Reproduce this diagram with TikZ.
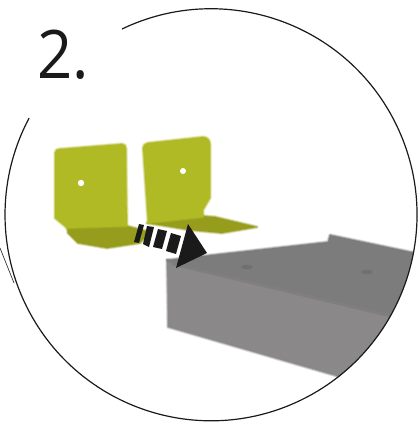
\documentclass[tikz,border=0pt]{standalone}
\usepackage{fontspec}
\setmainfont{Open Sans}
\definecolor{yel}{RGB}{176,186,36}
\definecolor{yeldark}{RGB}{150,156,28}
\definecolor{ink}{RGB}{26,26,26}
\definecolor{boxtop}{RGB}{124,124,125}
\definecolor{boxfront}{RGB}{138,136,137}
\tikzset{
  soft/.style={fill=#1,line join=round,
    preaction={draw=#1,line width=3.5pt,draw opacity=.25,line join=round},
    preaction={draw=#1,line width=1.8pt,draw opacity=.5,line join=round}},
  dashbar/.style={fill=ink,draw=none},
  ring/.style={draw=ink,line width=1.2pt}
}
\begin{document}
\begin{tikzpicture}[x=1pt,y=-1pt]
\useasboundingbox (0,0) rectangle (417,422);
\fill[white] (0,0) rectangle (417,422);
% grey block
\begin{scope}
\clip (211,215) circle[radius=206];
\path[soft=boxfront] (167,260) -- (168,327) -- (337,376) -- (430,410) -- (430,320) -- (390,312) -- (177,262) -- cycle;
\path[soft=boxtop] (167,260) -- (328,242) -- (330,235) -- (430,256) -- (430,325) -- (390,314) -- (177,264) -- cycle;
\draw[line width=2.5pt,draw=boxfront!108!white] (172,264) -- (390,316) -- (430,326);
\fill[boxtop!85!black,opacity=.6] (247,267) ellipse[x radius=6,y radius=2.2];
\fill[boxtop!85!black,opacity=.6] (367,272) ellipse[x radius=6,y radius=2.2];
\end{scope}
% left bracket
\path[soft=yeldark] (67,227) -- (68,233) -- (78,243) -- (107,248) -- (140,243) -- (150,232) -- (127,226) -- cycle;
\path[soft=yel] (55,153) .. controls (55,150) and (57,149) .. (60,149) -- (122,144) .. controls (125,144) and (126,146) .. (126,149) -- (127,226) -- (67,228) -- (55,218) -- cycle;
\fill[white] (81,183) circle[radius=3.2];
% right bracket
\path[soft=yeldark] (147,223) -- (190,230) -- (222,233) -- (257,227) -- (215,217) -- (203,216) -- cycle;
\path[soft=yel] (143,148) .. controls (143,145) and (145,144) .. (148,143) -- (203,137) .. controls (207,137) and (210,140) .. (210,144) -- (210,198) -- (203,210) -- (203,217) -- (148,223) -- cycle;
\fill[white] (183,171) circle[radius=3];
% arrow
\fill[dashbar] (139,224) -- (144,225) -- (139,243) -- (134,242) -- cycle;
\fill[dashbar] (147,226) -- (154,227) -- (149,247) -- (143,244) -- cycle;
\fill[dashbar] (158,229) -- (167,231) -- (162,249) -- (153,247) -- cycle;
\fill[dashbar] (171,233) -- (181,236) -- (176,254) -- (166,251) -- cycle;
\fill[ink] (188,224) -- (207,253) -- (176,268) -- cycle;
% circle, interrupted behind the numeral
\draw[ring] (122,29) arc[start angle=244.4,end angle=568,radius=206];
\draw[ink,line width=.6pt] (0,248) -- (14,283);
\node[anchor=base west,inner sep=0pt,text=ink,xscale=.92,font=\fontsize{67}{67}\selectfont] (num) at (37,79) {2.};
\end{tikzpicture}
\end{document}
